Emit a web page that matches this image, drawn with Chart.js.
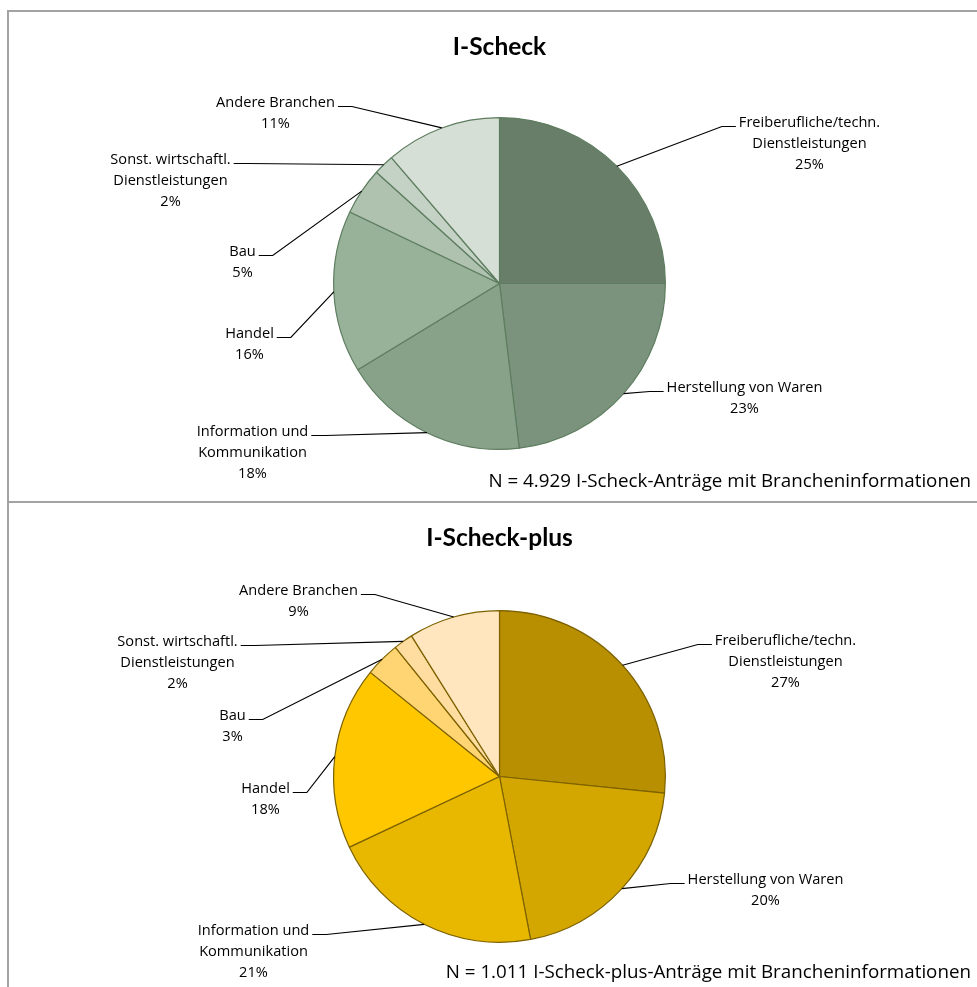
<!DOCTYPE html>
<html>
<head>
<meta charset="utf-8">
<script src="https://cdn.jsdelivr.net/npm/chart.js@4"></script>
<style>
  body { margin: 0; background: #fff; width: 977px; height: 987px; overflow: hidden; position: relative; }
  .box { position: absolute; left: 7px; width: 990px; border-left: 2px solid #a3a3a3; border-top: 2px solid #a3a3a3; }
  #box1 { top: 10px; height: 489px; border-bottom: 1px solid #a3a3a3; }
  #box2 { top: 501px; height: 500px; }
  canvas { position: absolute; left: 0; }
</style>
</head>
<body>
<div class="box" id="box1"></div>
<div class="box" id="box2"></div>
<canvas id="chart1" width="977" height="500" style="top:0"></canvas>
<canvas id="chart2" width="977" height="497" style="top:490px"></canvas>
<script>
const categories = [
  ['Freiberufliche/techn.', 'Dienstleistungen'],
  ['Herstellung von Waren'],
  ['Information und', 'Kommunikation'],
  ['Handel'],
  ['Bau'],
  ['Sonst. wirtschaftl.', 'Dienstleistungen'],
  ['Andere Branchen']
];
const scheckValues = [25.0, 23.1, 18.2, 15.8, 4.6, 2.0, 11.3];
const scheckPlusValues = [26.6, 20.4, 21.0, 17.8, 3.4, 1.9, 8.9];

const scheckColors = ['#687e69', '#7b937c', '#88a189', '#98b299', '#aec2af', '#c3d2c4', '#d5dfd6'];
const scheckPlusColors = ['#b88f00', '#d4a600', '#e8b700', '#fec700', '#ffd473', '#ffdca0', '#ffe6bf'];

// label placement (first text line centre, relative to pie centre)
const scheckLabelPos = [[310, -163], [245, 102], [-247, 146], [-250, 48], [-257, -34], [-329, -126], [-224, -183]];
const scheckPlusLabelPos = [[286, -138], [266, 101], [-246, 152], [-234, 10], [-267, -63], [-322, -137], [-201, -188]];

const FONT = '"Open Sans", Lato, sans-serif';

const labelPlugin = {
  id: 'leaderLabels',
  afterDraw(chart, args, opts) {
    const ctx = chart.ctx;
    const meta = chart.getDatasetMeta(0);
    const values = chart.data.datasets[0].data;
    ctx.save();
    ctx.font = '14.6px ' + FONT;
    ctx.fillStyle = '#000';
    ctx.strokeStyle = '#000';
    ctx.lineWidth = 1.2;
    ctx.textAlign = 'center';
    ctx.textBaseline = 'middle';
    meta.data.forEach((arc, i) => {
      const p = arc.getProps(['x', 'y', 'startAngle', 'endAngle', 'outerRadius'], true);
      const mid = (p.startAngle + p.endAngle) / 2;
      const ax = p.x + Math.cos(mid) * p.outerRadius;
      const ay = p.y + Math.sin(mid) * p.outerRadius;
      const lines = chart.data.labels[i].concat([Math.round(values[i]) + '%']);
      const tx = p.x + opts.pos[i][0];
      const ty = p.y + opts.pos[i][1] + 2;
      lines.forEach((l, k) => ctx.fillText(l, tx, ty + k * 21));
      const w = ctx.measureText(lines[0]).width;
      const ly = ty + 4;
      let ex, bx;
      if (tx < p.x) { ex = tx + w / 2 + 3; bx = ex + 14; }
      else { ex = tx - w / 2 - 3; bx = ex - 14; }
      ctx.beginPath();
      ctx.moveTo(ax, ay);
      ctx.lineTo(bx, ly);
      ctx.lineTo(ex, ly);
      ctx.stroke();
    });
    // title and note
    const c = meta.data[0].getProps(['x', 'y'], true);
    ctx.textAlign = 'center';
    ctx.font = 'bold 24.5px Lato, sans-serif';
    ctx.fillText(opts.title, c.x, c.y + opts.titleDy);
    ctx.textAlign = 'right';
    ctx.font = '18.8px ' + FONT;
    ctx.fillText(opts.note, 971, c.y + opts.noteDy);
    ctx.restore();
  }
};

function makeChart(id, values, colors, border, pad, plug) {
  return new Chart(document.getElementById(id), {
    type: 'pie',
    data: {
      labels: categories,
      datasets: [{ data: values, backgroundColor: colors, borderColor: border, borderWidth: 1.2 }]
    },
    options: {
      responsive: false,
      animation: false,
      devicePixelRatio: 1,
      layout: { padding: pad },
      plugins: {
        legend: { display: false },
        tooltip: { enabled: false },
        leaderLabels: plug
      }
    },
    plugins: [labelPlugin]
  });
}

makeChart('chart1', scheckValues, scheckColors, '#5e7d5f',
  { left: 333, right: 311, top: 117, bottom: 50 },
  { pos: scheckLabelPos, title: 'I-Scheck', titleDy: -236, note: 'N = 4.929 I-Scheck-Anträge mit Brancheninformationen', noteDy: 198 });

makeChart('chart2', scheckPlusValues, scheckPlusColors, '#7d6200',
  { left: 333, right: 311, top: 120, bottom: 44 },
  { pos: scheckPlusLabelPos, title: 'I-Scheck-plus', titleDy: -238, note: 'N = 1.011 I-Scheck-plus-Anträge mit Brancheninformationen', noteDy: 196 });
</script>
</body>
</html>
